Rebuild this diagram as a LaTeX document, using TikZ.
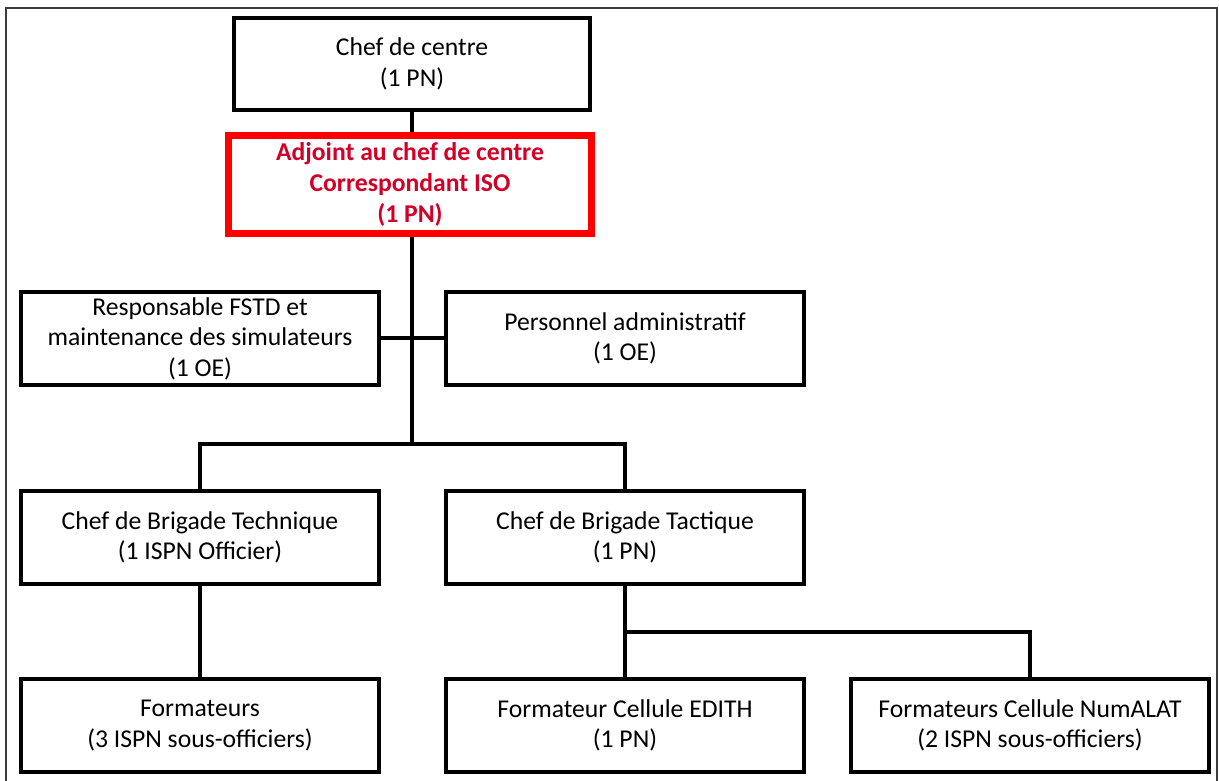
\documentclass[tikz,border=0pt]{standalone}
\usepackage{fontspec}
\setmainfont{Carlito}
\usepackage{xcolor}
\usepackage{tikz}
\usetikzlibrary{positioning,calc}
\definecolor{isored}{RGB}{255,0,0}
\definecolor{isotext}{RGB}{210,0,40}
\definecolor{framegray}{RGB}{60,60,60}
\tikzset{
  post/.style={draw=black, line width=0.8mm, fill=white, align=center,
               minimum width=71.6mm, minimum height=18.6mm, inner sep=2pt,
               font=\fontsize{14.6}{17.4}\selectfont},
  isopost/.style={post, draw=isored, line width=1.4mm, minimum width=72.6mm,
                  minimum height=19.6mm, text=isotext,
                  font=\fontsize{14.6}{17.4}\selectfont\bfseries},
  link/.style={line width=0.8mm, black},
  outline/.style={line width=0.45mm, framegray}
}

\begin{document}
\begin{tikzpicture}[x=0.2mm, y=-0.2mm]
\useasboundingbox (0,0) rectangle (1219,781);
\draw[outline] (6,781) |- (1217,8) -- (1217,781);
% top of the chart
\node[post, minimum width=71.2mm, minimum height=18.4mm] (chef) at (412,64) {Chef de centre\\(1 PN)};
\node[isopost] (adj) at (410,184.5) {Adjoint au chef de centre\\Correspondant ISO\\(1 PN)};
% staff
\node[post] (fstd) at (200,338.5) {Responsable FSTD et\\maintenance des simulateurs\\(1 OE)};
\node[post] (admin) at (625,338.5) {Personnel administratif\\(1 OE)};
% brigades
\node[post] (tech) at (200,537.5) {Chef de Brigade Technique\\(1 ISPN Officier)};
\node[post] (tact) at (625,537.5) {Chef de Brigade Tactique\\(1 PN)};
% trainers
\node[post] (form) at (200,725.5) {Formateurs\\(3 ISPN sous-officiers)};
\node[post] (edith) at (625,725.5) {Formateur Cellule EDITH\\(1 PN)};
\node[post] (numalat) at (1030,725.5) {Formateurs Cellule NumALAT\\(2 ISPN sous-officiers)};
\coordinate (split) at (412,444);
\coordinate (tsplit) at (625,632);
\draw[link] (chef.south -| split) -- (adj.north -| split);
\draw[link] (adj.south -| split) -- (split);
\draw[link] (fstd.east) -- (admin.west);
\draw[link] (tech.north) |- (split) -| (tact.north);
\draw[link] (tech.south) -- (form.north);
\draw[link] (tact.south) -- (edith.north);
\draw[link] (tsplit) -| (numalat.north);
\end{tikzpicture}
\end{document}
